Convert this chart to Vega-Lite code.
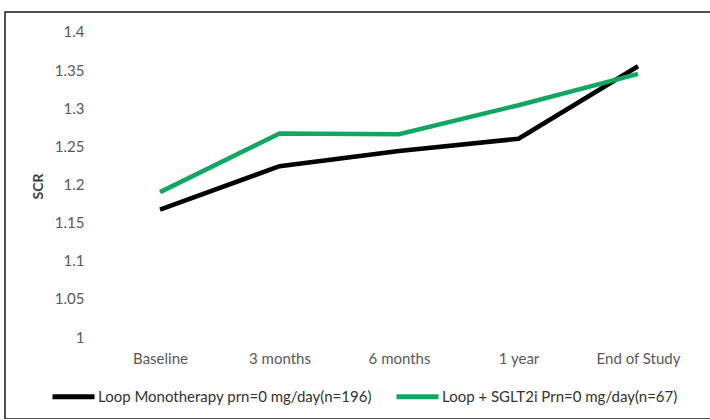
{
  "$schema": "https://vega.github.io/schema/vega-lite/v6.json",
  "width": 707,
  "height": 407,
  "autosize": {"type": "none"},
  "padding": {"left": 5, "top": 12, "right": 0, "bottom": 0},
  "background": "white",
  "config": {
    "view": {"stroke": "#1a1a1a", "strokeWidth": 1.5},
    "font": "Lato"
  },
  "data": {
    "values": [
      {"series": "Loop Monotherapy prn=0 mg/day(n=196)", "time": "Baseline", "value": 1.167},
      {"series": "Loop Monotherapy prn=0 mg/day(n=196)", "time": "3 months", "value": 1.224},
      {"series": "Loop Monotherapy prn=0 mg/day(n=196)", "time": "6 months", "value": 1.244},
      {"series": "Loop Monotherapy prn=0 mg/day(n=196)", "time": "1 year", "value": 1.26},
      {"series": "Loop Monotherapy prn=0 mg/day(n=196)", "time": "End of Study", "value": 1.355},
      {"series": "Loop + SGLT2i Prn=0 mg/day(n=67)", "time": "Baseline", "value": 1.19},
      {"series": "Loop + SGLT2i Prn=0 mg/day(n=67)", "time": "3 months", "value": 1.267},
      {"series": "Loop + SGLT2i Prn=0 mg/day(n=67)", "time": "6 months", "value": 1.266},
      {"series": "Loop + SGLT2i Prn=0 mg/day(n=67)", "time": "1 year", "value": 1.304},
      {"series": "Loop + SGLT2i Prn=0 mg/day(n=67)", "time": "End of Study", "value": 1.345}
    ]
  },
  "mark": {"type": "line", "strokeWidth": 4.5, "strokeCap": "butt"},
  "encoding": {
    "x": {
      "field": "time",
      "type": "ordinal",
      "sort": ["Baseline", "3 months", "6 months", "1 year", "End of Study"],
      "scale": {"type": "point", "padding": 0.958, "align": 0.677},
      "axis": {
        "title": null,
        "orient": "bottom",
        "offset": -82,
        "domain": false,
        "ticks": false,
        "labelPadding": 14,
        "labelFontSize": 15,
        "labelColor": "#595959",
        "labelAngle": 0
      }
    },
    "y": {
      "field": "value",
      "type": "quantitative",
      "scale": {"domain": [0.8925, 1.4262], "nice": false, "zero": false},
      "axis": {
        "title": "SCR",
        "values": [1, 1.05, 1.1, 1.15, 1.2, 1.25, 1.3, 1.35, 1.4],
        "labelExpr": "datum.value + ''",
        "offset": -83,
        "grid": false,
        "domain": false,
        "ticks": false,
        "labelPadding": 4,
        "labelFontSize": 15,
        "labelColor": "#595959",
        "titleFontSize": 14,
        "titleFontWeight": "bold",
        "titleColor": "#404040",
        "titlePadding": 9,
        "titleY": 174
      }
    },
    "color": {
      "field": "series",
      "type": "nominal",
      "scale": {
        "domain": ["Loop Monotherapy prn=0 mg/day(n=196)", "Loop + SGLT2i Prn=0 mg/day(n=67)"],
        "range": ["#000000", "#10a860"]
      },
      "legend": {
        "title": null,
        "orient": "none",
        "legendX": 45,
        "legendY": 361,
        "direction": "horizontal",
        "symbolType": "stroke",
        "symbolStrokeWidth": 5,
        "symbolSize": 1764,
        "labelFontSize": 15,
        "labelLimit": 0,
        "labelColor": "#333333",
        "labelOffset": 1,
        "columnPadding": 14,
        "padding": 0
      }
    }
  }
}
